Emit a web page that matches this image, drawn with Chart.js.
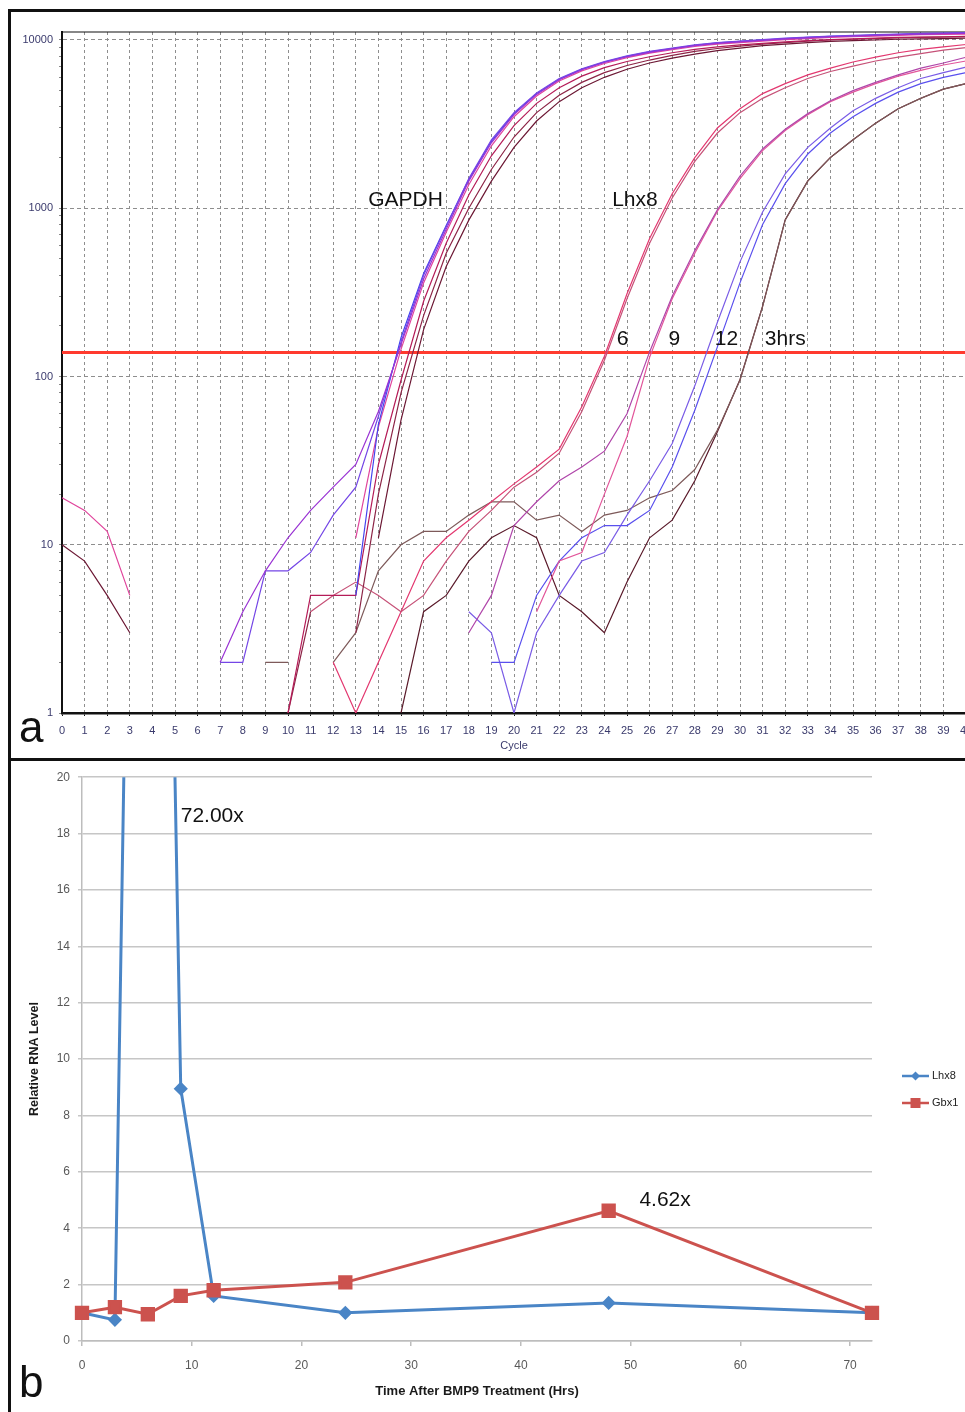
<!DOCTYPE html>
<html>
<head>
<meta charset="utf-8">
<script src="https://cdn.jsdelivr.net/npm/chart.js@4.4.0/dist/chart.umd.min.js"></script>
<style>
  html, body { margin: 0; padding: 0; background: #fff; overflow: hidden; }
  body { width: 965px; height: 1412px; position: relative; font-family: "Liberation Sans", Arial, sans-serif; }
  canvas { position: absolute; left: 0; }
  .rule { position: absolute; background: #111; }
  .panel-tag { position: absolute; font-size: 44px; line-height: 1; color: #111; }
</style>
</head>
<body>
<canvas id="pcrChart" width="990" height="758" style="top:0"></canvas>
<canvas id="rnaChart" width="965" height="650" style="top:762px"></canvas>
<div class="rule" style="left:8px;top:9px;width:960px;height:3px"></div>
<div class="rule" style="left:8px;top:9px;width:3px;height:1405px"></div>
<div class="rule" style="left:8px;top:758px;width:960px;height:3px"></div>
<div class="panel-tag" style="left:19px;top:705px">a</div>
<div class="panel-tag" style="left:19px;top:1360px">b</div>
<script>
// ---- panel a: amplification plot (fluorescence vs cycle) ----
const cycles = [0,1,2,3,4,5,6,7,8,9,10,11,12,13,14,15,16,17,18,19,20,21,22,23,24,25,26,27,28,29,30,31,32,33,34,35,36,37,38,39,40];
const n = null;

// GAPDH wells
const gapdhViolet  = [n,n,n,n,n,n,n,2,4,7,11,16,22,30,62,155,380,750,1450,2450,3600,4750,5800,6650,7350,7950,8450,8850,9250,9550,9750,9950,10150,10300,10450,10550,10650,10750,10850,10900,10950];
const gapdhIndigo  = [n,n,n,n,n,n,n,2,2,7,7,9,15,22,58,160,400,780,1500,2550,3700,4850,5900,6750,7450,8050,8550,8950,9350,9650,9850,10050,10250,10400,10550,10650,10750,10850,10950,11000,11050];
const gapdhBlue    = [n,n,n,n,n,n,n,n,n,n,n,n,n,5,52,170,410,790,1480,2500,3650,4800,5850,6700,7400,8000,8500,8900,9300,9600,9800,10000,10200,10350,10500,10600,10700,10800,10900,10950,11000];
const gapdhPink    = [19,16,12,5,n,n,n,n,n,n,n,n,n,11,50,145,360,720,1380,2350,3500,4650,5700,6550,7250,7850,8350,8750,9150,9450,9650,9850,10050,10200,10350,10450,10550,10650,10750,10800,10850];
const gapdhCrimson = [n,n,n,n,n,n,n,n,n,n,1,5,5,5,30,95,280,620,1200,2050,3100,4200,5200,6100,6850,7450,7950,8400,8800,9100,9350,9550,9750,9900,10050,10150,10250,10350,10400,10450,10500];
const gapdhMaroon  = [10,8,5,3,n,n,n,n,n,n,n,n,n,n,11,55,190,450,850,1450,2300,3300,4300,5200,6000,6700,7300,7800,8250,8650,8950,9250,9450,9650,9800,9900,10000,10100,10150,10200,10250];
const gapdhWine    = [n,n,n,n,n,n,n,n,n,n,1,4,n,3,20,80,230,540,1000,1700,2650,3700,4700,5600,6400,7050,7600,8100,8550,8900,9200,9450,9650,9850,10000,10100,10200,10300,10350,10400,10450];

// Lhx8 wells (6, 9, 12 and 3 hrs)
const lhx6a  = [n,n,n,n,n,n,n,n,n,n,n,4,5,6,5,4,5,8,12,16,22,27,35,62,125,290,620,1150,1900,2800,3700,4500,5200,5900,6500,7000,7500,7900,8300,8700,9000];
const lhx6b  = [n,n,n,n,n,n,n,n,n,n,n,n,2,1,2,4,8,11,14,18,23,29,37,66,132,310,660,1220,2000,3000,3900,4800,5500,6200,6800,7400,7900,8400,8800,9100,9400];
const lhx9a  = [n,n,n,n,n,n,n,n,n,n,n,n,n,n,n,n,n,n,3,5,13,18,24,29,36,60,140,300,560,980,1550,2250,2950,3650,4350,5000,5600,6200,6800,7300,7900];
const lhx9b  = [n,n,n,n,n,n,n,n,n,n,n,n,n,n,n,n,n,n,n,n,n,4,8,9,20,44,130,290,540,960,1500,2200,2900,3600,4300,4900,5500,6100,6600,7100,7500];
const lhx12a = [n,n,n,n,n,n,n,n,n,n,n,n,n,n,n,n,n,n,n,2,2,5,8,11,13,13,16,29,63,150,360,800,1400,2100,2800,3500,4200,4900,5500,6000,6400];
const lhx12b = [n,n,n,n,n,n,n,n,n,n,n,n,n,n,n,n,n,n,4,3,1,3,5,8,9,15,24,40,88,210,480,950,1600,2300,3000,3800,4500,5200,5900,6400,6900];
const lhx3a  = [n,n,n,n,n,n,n,n,n,2,2,n,2,3,7,10,12,12,15,18,18,14,15,12,15,16,19,21,28,48,95,260,850,1450,2000,2550,3200,3900,4500,5100,5500];
const lhx3b  = [n,n,n,n,n,n,n,n,n,n,n,n,n,n,n,1,4,5,8,11,13,11,5,4,3,6,11,14,24,47,96,262,855,1455,2005,2555,3205,3905,4505,5105,5505];

const thresholdLevel = 139;
const yTicksA = [1,2,3,4,5,6,7,8,9,10,20,30,40,50,60,70,80,90,100,200,300,400,500,600,700,800,900,1000,2000,3000,4000,5000,6000,7000,8000,9000,10000];
const yLabelsA = [1,10,100,1000,10000];

const annotTextA = ["GAPDH", "Lhx8", "6", "9", "12", "3hrs"];
const annotCycleA = [15.2, 25.35, 24.8, 27.1, 29.4, 32.0];
const annotLevelA = [1117, 1117, 167, 167, 167, 167];

// ---- panel b: relative RNA level ----
const hours = [0, 3, 6, 9, 12, 24, 48, 72];
const lhx8Level = [1.0, 0.75, 72.0, 8.95, 1.6, 1.0, 1.35, 1.0];
const gbx1Level = [1.0, 1.2, 0.95, 1.6, 1.8, 2.08, 4.62, 1.0];
const hourTicks = [0, 10, 20, 30, 40, 50, 60, 70];

const annotTextB = ["72.00x", "4.62x"];
const annotHourB = [9.0, 50.8];
const annotLevelB = [18.6, 5.0];

Chart.defaults.font.family = '"Liberation Sans", Arial, sans-serif';
Chart.defaults.animation = false;

function textPlugin(id, texts, xs, ys, font, align) {
    return {
        id: id,
        afterDatasetsDraw(chart) {
            const { ctx, scales } = chart;
            ctx.save();
            ctx.font = font;
            ctx.fillStyle = "#111";
            ctx.textAlign = align;
            ctx.textBaseline = "middle";
            texts.forEach((t, i) => {
                ctx.fillText(t, scales.x.getPixelForValue(xs[i]), scales.y.getPixelForValue(ys[i]));
            });
            ctx.restore();
        }
    };
}

const topRule = {
    id: "topRule",
    beforeDatasetsDraw(chart) {
        const { ctx, chartArea } = chart;
        ctx.save();
        ctx.strokeStyle = "#111";
        ctx.lineWidth = 1.2;
        ctx.beginPath();
        ctx.moveTo(chartArea.left, chartArea.top);
        ctx.lineTo(chartArea.right, chartArea.top);
        ctx.stroke();
        ctx.restore();
    }
};

const pcrWells = [
    [gapdhViolet, "#9a34d4"], [gapdhIndigo, "#7446e6"], [gapdhBlue, "#4444ee"],
    [gapdhPink, "#e0449c"], [gapdhCrimson, "#b51c58"], [gapdhMaroon, "#6c1834"], [gapdhWine, "#8c2446"],
    [lhx6a, "#c65278"], [lhx6b, "#e33870"], [lhx9a, "#b046aa"], [lhx9b, "#e2559a"],
    [lhx12a, "#5a50ee"], [lhx12b, "#7a5ce6"], [lhx3a, "#7e5a5a"], [lhx3b, "#5a1a2a"]
];

const pcrDatasets = pcrWells.map(([vals, color]) => ({
    data: vals,
    borderColor: color,
    borderWidth: 1.2,
    pointRadius: 0,
    tension: 0,
    spanGaps: false
}));
pcrDatasets.push({
    data: [{ x: 0, y: thresholdLevel }, { x: 40, y: thresholdLevel }],
    borderColor: "#ff3a2e",
    borderWidth: 3,
    pointRadius: 0
});

const tickInk = "#3a3a6c";

new Chart(document.getElementById("pcrChart"), {
    type: "line",
    data: { labels: cycles, datasets: pcrDatasets },
    options: {
        responsive: false,
        layout: { padding: { top: 32, right: 24, left: 0, bottom: 0 } },
        plugins: { legend: { display: false }, tooltip: { enabled: false } },
        scales: {
            x: {
                type: "category",
                afterFit: s => { s.height = 45; },
                grid: { color: "#8e8e8e", lineWidth: 1, tickLength: 3, tickColor: "#111", tickBorderDash: [] },
                border: { color: "#111", width: 2.5, dash: [3, 3] },
                ticks: { autoSkip: false, maxRotation: 0, padding: 8, color: tickInk, font: { size: 11 } },
                title: { display: true, text: "Cycle", color: tickInk, font: { size: 11 }, padding: { top: 0, bottom: 5 } }
            },
            y: {
                type: "logarithmic",
                min: 1,
                max: 11155,
                afterFit: s => { s.width = 62; },
                afterBuildTicks: s => { s.ticks = yTicksA.map(v => ({ value: v })); },
                grid: {
                    color: c => (c.tick && yLabelsA.includes(c.tick.value)) ? "#8e8e8e" : "rgba(0,0,0,0)",
                    tickColor: "#888",
                    tickLength: 3,
                    lineWidth: 1,
                    tickBorderDash: []
                },
                border: { color: "#111", width: 2, dash: [4, 3] },
                ticks: {
                    autoSkip: false,
                    padding: 6,
                    color: tickInk,
                    font: { size: 11 },
                    callback: v => yLabelsA.includes(v) ? String(v) : ""
                }
            }
        }
    },
    plugins: [topRule, textPlugin("pcrText", annotTextA, annotCycleA, annotLevelA, "21px 'Liberation Sans', Arial, sans-serif", "center")]
});

const lineLegend = {
    id: "lineLegend",
    afterDraw(chart) {
        const { ctx } = chart;
        chart.data.datasets.forEach((ds, i) => {
            const y = 314 + i * 27;
            const x0 = 902;
            ctx.save();
            ctx.strokeStyle = ds.borderColor;
            ctx.fillStyle = ds.borderColor;
            ctx.lineWidth = 2.5;
            ctx.beginPath();
            ctx.moveTo(x0, y);
            ctx.lineTo(x0 + 27, y);
            ctx.stroke();
            const cx = x0 + 13.5;
            if (ds.pointStyle === "rect") {
                ctx.fillRect(cx - 5, y - 5, 10, 10);
            } else {
                ctx.beginPath();
                ctx.moveTo(cx, y - 4.5);
                ctx.lineTo(cx + 4.5, y);
                ctx.lineTo(cx, y + 4.5);
                ctx.lineTo(cx - 4.5, y);
                ctx.closePath();
                ctx.fill();
            }
            ctx.fillStyle = "#222";
            ctx.font = "11px 'Liberation Sans', Arial, sans-serif";
            ctx.textBaseline = "middle";
            ctx.fillText(ds.label, x0 + 30, y);
            ctx.restore();
        });
    }
};

const lhxBlue = "#4a85c6";
const gbxRed = "#cc524e";

new Chart(document.getElementById("rnaChart"), {
    type: "line",
    data: {
        labels: hours,
        datasets: [
            {
                label: "Lhx8",
                data: hours.map((h, i) => ({ x: h, y: lhx8Level[i] })),
                borderColor: lhxBlue,
                backgroundColor: lhxBlue,
                pointBackgroundColor: lhxBlue,
                pointBorderColor: lhxBlue,
                borderWidth: 3,
                pointStyle: "rectRot",
                pointRadius: 5,
                tension: 0,
                clip: { left: 12, right: 12, top: 0, bottom: 12 },
                order: 1
            },
            {
                label: "Gbx1",
                data: hours.map((h, i) => ({ x: h, y: gbx1Level[i] })),
                borderColor: gbxRed,
                backgroundColor: gbxRed,
                pointBackgroundColor: gbxRed,
                pointBorderColor: gbxRed,
                borderWidth: 3,
                pointStyle: "rect",
                pointRadius: 8,
                tension: 0,
                clip: false,
                order: 0
            }
        ]
    },
    options: {
        responsive: false,
        layout: { padding: { top: 15, right: 93, left: 0, bottom: 0 } },
        plugins: { legend: { display: false }, tooltip: { enabled: false } },
        scales: {
            x: {
                type: "linear",
                min: 0,
                max: 72,
                afterFit: s => { s.height = 71; },
                afterBuildTicks: s => { s.ticks = hourTicks.map(v => ({ value: v })); },
                grid: { drawOnChartArea: false, drawTicks: true, tickLength: 5, color: "#bdbdbd", lineWidth: 1.5 },
                border: { color: "#bdbdbd", width: 1.5 },
                ticks: { color: "#595959", font: { size: 12 }, padding: 12, maxRotation: 0 },
                title: {
                    display: true,
                    text: "Time After BMP9 Treatment (Hrs)",
                    color: "#1a1a1a",
                    font: { size: 13, weight: "bold" },
                    padding: { top: 0, bottom: 13 }
                }
            },
            y: {
                min: 0,
                max: 20,
                afterFit: s => { s.width = 82; },
                grid: { color: "#c6c6c6", lineWidth: 1.5, tickLength: 4 },
                border: { color: "#bdbdbd", width: 1.5 },
                ticks: { stepSize: 2, color: "#595959", font: { size: 12 }, padding: 8 },
                title: {
                    display: true,
                    text: "Relative RNA Level",
                    color: "#1a1a1a",
                    font: { size: 12.5, weight: "bold" },
                    padding: { top: 27, bottom: 0 }
                }
            }
        }
    },
    plugins: [lineLegend, textPlugin("rnaText", annotTextB, annotHourB, annotLevelB, "21px 'Liberation Sans', Arial, sans-serif", "left")]
});
</script>
</body>
</html>
